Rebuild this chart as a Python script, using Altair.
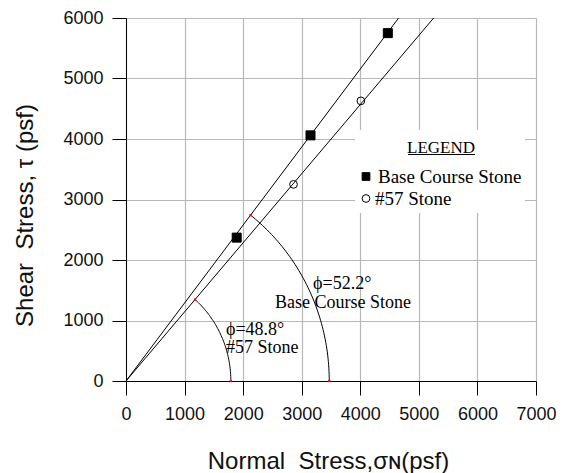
import altair as alt
import pandas as pd
import numpy as np

# ---- data ----
series = ["Base Course Stone", "#57 Stone"]
base_sigma = [1890, 3150, 4470]
base_tau = [2370, 4060, 5750]
s57_sigma = [2860, 4010]
s57_tau = [3250, 4630]
phi_deg = [52.2, 48.8]          # friction angle of each series
arc_radius = [3470, 1790]       # radius of the angle arcs (psf)
x_ticks = [0, 1000, 2000, 3000, 4000, 5000, 6000, 7000]
y_ticks = [0, 1000, 2000, 3000, 4000, 5000, 6000]
ann_text = ["ϕ=52.2°", "Base Course Stone", "ϕ=48.8°", "#57 Stone"]
ann_sigma = [3193, 2544, 1707, 1707]
ann_tau = [1611, 1282, 840, 540]
legend_title = "LEGEND"
Y_MAX = 6000

# ---- tables ----
pts = pd.DataFrame(
    {"series": [series[0]] * len(base_sigma) + [series[1]] * len(s57_sigma),
     "sigma": base_sigma + s57_sigma,
     "tau": base_tau + s57_tau})

line_rows = []
for s, p in zip(series, phi_deg):
    t = np.tan(np.radians(p))
    line_rows.append({"series": s, "i": 0, "sigma": 0.0, "tau": 0.0})
    line_rows.append({"series": s, "i": 1, "sigma": Y_MAX / t, "tau": Y_MAX})
lines = pd.DataFrame(line_rows)

arc_rows = []
end_rows = []
for s, p, r in zip(series, phi_deg, arc_radius):
    angs = np.linspace(0, np.radians(p), 60)
    for k, a in enumerate(angs):
        arc_rows.append({"series": s, "i": k, "sigma": r * np.cos(a), "tau": r * np.sin(a)})
    end_rows.append({"sigma": r, "tau": 0.0})
    end_rows.append({"sigma": r * np.cos(np.radians(p)), "tau": r * np.sin(np.radians(p))})
arcs = pd.DataFrame(arc_rows)
ends = pd.DataFrame(end_rows)

ann = pd.DataFrame({"text": ann_text, "sigma": ann_sigma, "tau": ann_tau})
one = pd.DataFrame({"k": [0]})

# ---- axes ----
common = dict(grid=True, gridColor="#b8b8b8", gridWidth=1.2, tickSize=14,
              tickColor="black", tickWidth=1, domainColor="black", domainWidth=1,
              labelFont="Liberation Sans", labelFontSize=18, labelColor="#111",
              labelFlush=False, labelOverlap=False, format="d",
              titleFont="Liberation Sans", titleFontSize=24, titleFontWeight="normal",
              titleColor="#111", titleAlign="center", titleBaseline="alphabetic")
x_axis = alt.Axis(values=x_ticks, title="Normal\u00a0 Stress,σɴ(psf)", labelPadding=10,
                  titleX=202, titleY=87, **common)
y_axis = alt.Axis(values=y_ticks, title="Shear\u00a0 Stress, τ (psf)", labelPadding=9,
                  titleAngle=270, titleX=-94, titleY=197, **common)

X = lambda: alt.X("sigma:Q", scale=alt.Scale(domain=[0, 7000], nice=False, zero=False), axis=x_axis)
Y = lambda: alt.Y("tau:Q", scale=alt.Scale(domain=[0, 6000], nice=False, zero=False), axis=y_axis)

shapes = ["square", "circle"]
fills = ["black", "transparent"]
shape_scale = alt.Scale(domain=series, range=shapes)
fill_scale = alt.Scale(domain=series, range=fills)
size_scale = alt.Scale(domain=series, range=[81, 60])

# legend: white box (covers grid), title with underline, symbols and labels
legend_bg = alt.Chart(one).mark_rect(color="white").encode(
    x=alt.value(229), x2=alt.value(399), y=alt.value(112), y2=alt.value(195))
leg_title = alt.Chart(one).mark_text(font="Liberation Serif", fontSize=17, color="black",
                                     align="center", baseline="alphabetic").encode(
    x=alt.value(315), y=alt.value(135), text=alt.value(legend_title))
underline = alt.Chart(one).mark_rule(color="black", strokeWidth=1).encode(
    x=alt.value(282), x2=alt.value(349), y=alt.value(136.5))
legend_layers = []
row_y = [158.5, 180.5]
for i, s in enumerate(series):
    d = pd.DataFrame({"series": [s]})
    legend_layers.append(
        alt.Chart(d).mark_point(shape=shapes[i], fill=fills[i], stroke="black",
                                strokeWidth=1, opacity=1, size=60).encode(
            x=alt.value(240), y=alt.value(row_y[i])))
    legend_layers.append(
        alt.Chart(d).mark_text(font="Liberation Serif", fontSize=19, color="black",
                               align="left", baseline="middle").encode(
            x=alt.value(252 if i == 0 else 249), y=alt.value(row_y[i] + 0.5), text="series:N"))

env = alt.Chart(lines).mark_line(color="black", strokeWidth=1, clip=True).encode(
    x=X(), y=Y(), detail="series:N", order="i:Q")
arc = alt.Chart(arcs).mark_line(color="black", strokeWidth=1).encode(
    x=X(), y=Y(), detail="series:N", order="i:Q")
red = alt.Chart(ends).mark_point(shape="square", size=5, filled=True, color="red", opacity=1).encode(
    x=X(), y=Y())
points = alt.Chart(pts).mark_point(stroke="black", strokeWidth=1, opacity=1).encode(
    x=X(), y=Y(),
    shape=alt.Shape("series:N", scale=shape_scale, legend=None),
    fill=alt.Fill("series:N", scale=fill_scale, legend=None),
    size=alt.Size("series:N", scale=size_scale, legend=None))
labels = alt.Chart(ann).mark_text(align="left", baseline="middle", font="Liberation Serif",
                                  fontSize=18, color="black").encode(
    x=X(), y=Y(), text="text:N")

chart = alt.layer(env, arc, red, points, labels,
                  legend_bg, leg_title, underline, *legend_layers).properties(
    width=410, height=363,
    autosize=alt.AutoSizeParams(type="none"),
    padding={"left": 118, "top": 10, "right": 22, "bottom": 92},
    background="white",
).configure_view(strokeWidth=0)

chart.save("out.html", embed_options={"renderer": "svg", "actions": False})
